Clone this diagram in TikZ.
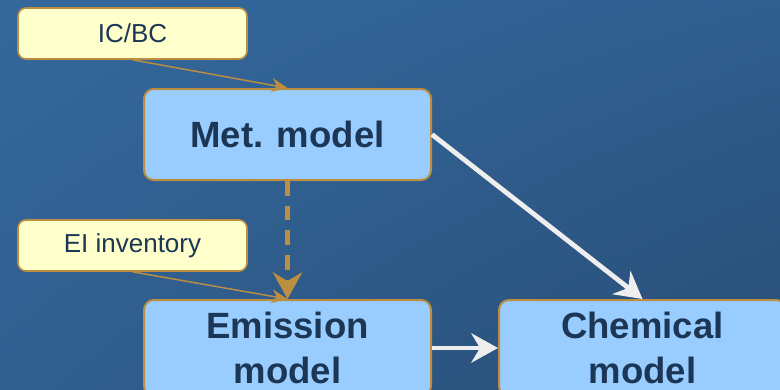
\documentclass[tikz,border=0pt]{standalone}
\usepackage{fontspec}
\setmainfont{Liberation Sans}
\usetikzlibrary{arrows.meta,shadings}

\definecolor{bgul}{HTML}{34689B}
\definecolor{bgur}{HTML}{2F5E8F}
\definecolor{bgll}{HTML}{305F90}
\definecolor{bglr}{HTML}{294D75}
\definecolor{gold}{HTML}{BC8E42}
\definecolor{modelfill}{HTML}{99CCFF}
\definecolor{inputfill}{HTML}{FFFFCC}
\definecolor{navy}{HTML}{1C3656}
\definecolor{offwhite}{HTML}{EEEEEE}

\tikzset{
  modelbox/.style={draw=gold,line width=1.5pt,fill=modelfill,rounded corners=7.5pt,
    minimum width=215.25pt,minimum height=68.25pt,align=center,text=navy,
    font=\fontsize{27.4}{33.5}\selectfont\bfseries,inner sep=0pt},
  inputbox/.style={draw=gold,line width=1.2pt,fill=inputfill,rounded corners=6pt,
    minimum width=171.75pt,minimum height=38.25pt,text=navy,
    font=\fontsize{19.5}{23}\selectfont,inner sep=0pt},
  feed/.style={draw=gold,line width=1.1pt,-{Stealth[length=12pt,width=10.5pt]}},
  flow/.style={draw=offwhite,line width=3.6pt,-{Stealth[length=20pt,width=22pt]}},
  dashflow/.style={draw=gold,line width=3.6pt,dash pattern=on 11pt off 7.5pt,
    -{Stealth[length=20pt,width=22pt]}}
}

\begin{document}
\begin{tikzpicture}[x=0.75pt,y=-0.75pt]
    \useasboundingbox (0,0) rectangle (780,389);
    \clip (0,0) rectangle (780,389);
    \shade[upper left=bgul,upper right=bgur,lower left=bgll,lower right=bglr] (0,0) rectangle (780,389);

    \node[inputbox] (icbc) at (132.5,33.5)  {IC/BC};
    \node[inputbox] (ei)   at (132.5,245.5) {EI inventory};
    \node[modelbox] (met)  at (287.5,134.5) {Met. model};
    \node[modelbox,minimum height=72pt] (emis) at (287.5,348) {Emission\\model};
    \node[modelbox,minimum height=72pt] (chem) at (642.5,348) {Chemical\\model};

    \path[feed] (icbc.south) -- (met.north);
    \path[feed] (ei.south) -- (emis.north);
    \path[dashflow] (met.south) -- (emis.north);
    \path[flow] (met.east) -- (chem.north);
    \path[flow] (emis.east) -- (chem.west);
\end{tikzpicture}
\end{document}
